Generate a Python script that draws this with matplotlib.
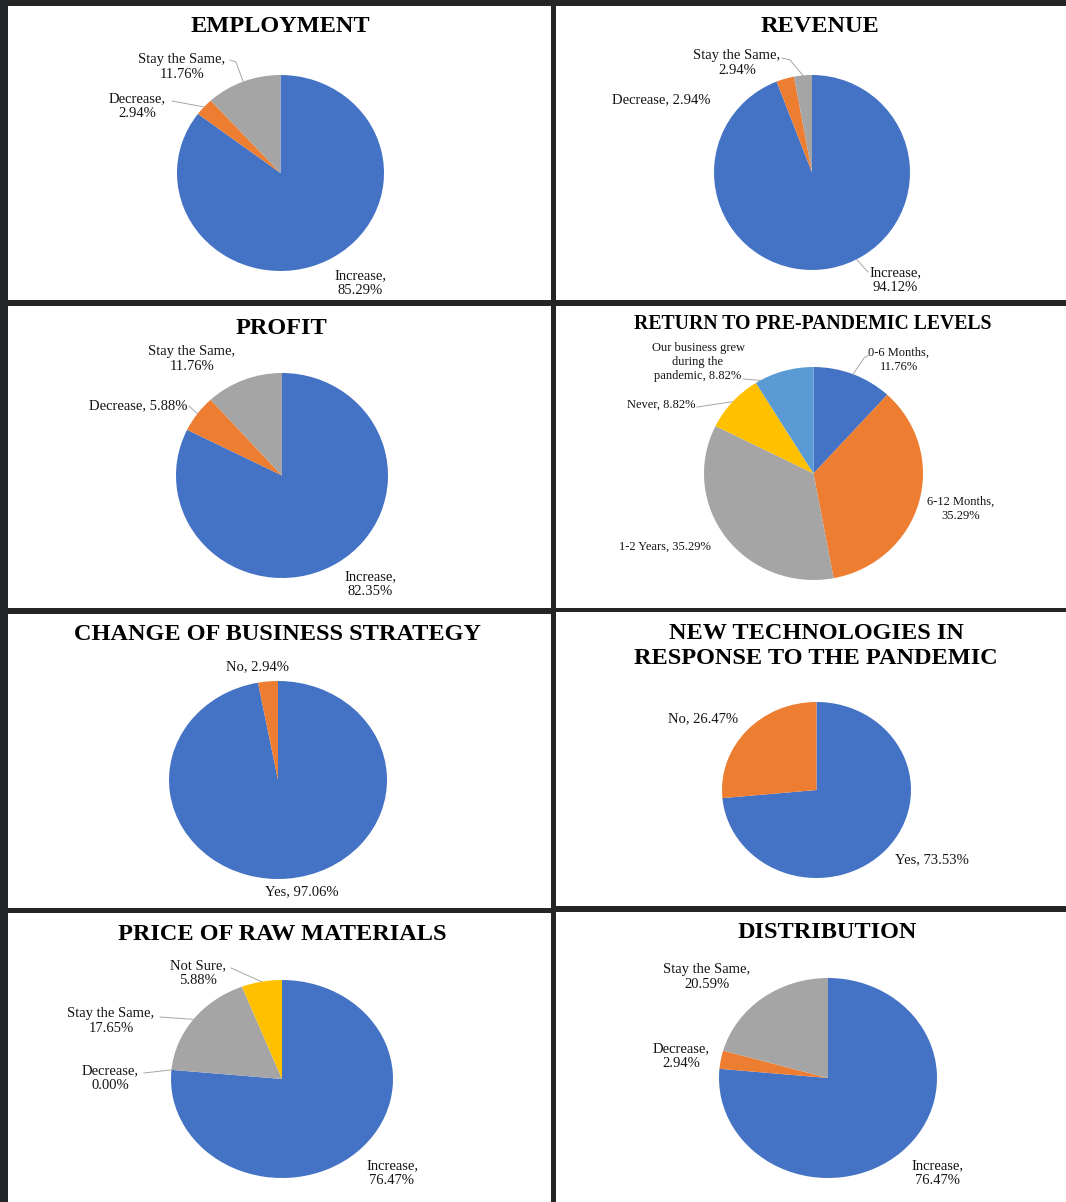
import matplotlib
matplotlib.use("Agg")
import matplotlib.pyplot as plt
from matplotlib.patches import Rectangle
import numpy as np

W, H = 1066, 1202
DPI = 100

BLUE = "#4472C4"
ORANGE = "#ED7D31"
GRAY = "#A5A5A5"
YELLOW = "#FFC000"
LBLUE = "#5B9BD5"

# ---------------- data ----------------
employment_labels = ["Increase", "Decrease", "Stay the Same"]
employment_values = [85.29, 2.94, 11.76]

revenue_labels = ["Increase", "Decrease", "Stay the Same"]
revenue_values = [94.12, 2.94, 2.94]

profit_labels = ["Increase", "Decrease", "Stay the Same"]
profit_values = [82.35, 5.88, 11.76]

return_labels = ["0-6 Months", "6-12 Months", "1-2 Years", "Never",
                 "Our business grew\nduring the\npandemic"]
return_values = [11.76, 35.29, 35.29, 8.82, 8.82]

strategy_labels = ["Yes", "No"]
strategy_values = [97.06, 2.94]

tech_labels = ["Yes", "No"]
tech_values = [73.53, 26.47]

raw_labels = ["Increase", "Decrease", "Stay the Same", "Not Sure"]
raw_values = [76.47, 0.00, 17.65, 5.88]

dist_labels = ["Increase", "Decrease", "Stay the Same"]
dist_values = [76.47, 2.94, 20.59]

# ---------------- layout ----------------
fig = plt.figure(figsize=(W / DPI, H / DPI), dpi=DPI)
fig.patch.set_facecolor("#232527")

panels = [(8, 6, 551, 300), (556, 6, 1066, 300),
          (8, 306, 551, 608), (556, 306, 1066, 608),
          (8, 614, 551, 908), (556, 612, 1066, 906),
          (8, 913, 551, 1202), (556, 912, 1066, 1202)]
for (x0, y0, x1, y1) in panels:
    fig.patches.append(Rectangle((x0 / W, 1 - y1 / H), (x1 - x0) / W, (y1 - y0) / H,
                                 transform=fig.transFigure, facecolor="white",
                                 edgecolor="none", zorder=-5))

SERIF = ["Liberation Serif", "DejaVu Serif"]


def title(text, x, y, size=17.5):
    fig.text(x / W, 1 - y / H, text, ha="center", va="center", fontsize=size,
             fontweight="bold", family=SERIF, color="black", linespacing=1.22)


def make_pie(cx, cy, rx, ry, values, colors, labels, lsize=10.5, lspace=1.25):
    ax = fig.add_axes([(cx - rx) / W, 1 - (cy + ry) / H, 2 * rx / W, 2 * ry / H])
    ax.set_zorder(2)
    wedges, _ = ax.pie(values, colors=colors, startangle=90, counterclock=False,
                       radius=1.0, wedgeprops=dict(linewidth=0))
    ax.set_aspect("auto")
    ax.set_xlim(-1, 1)
    ax.set_ylim(-1, 1)
    ax.axis("off")

    def to_data(px, py):
        return (px - cx) / rx, -(py - cy) / ry

    for i, spec in enumerate(labels):
        if spec is None:
            continue
        text, lx, ly, leader = spec[:4]
        end_ang = spec[4] if len(spec) > 4 else None
        tx, ty = to_data(lx, ly)
        ax.text(tx, ty, text, ha="center", va="center", fontsize=lsize,
                family=SERIF, color="#141414", clip_on=False, linespacing=lspace)
        if leader is not None:
            w = wedges[i]
            ang = (w.theta1 + w.theta2) / 2 if end_ang is None else end_ang
            a = np.deg2rad(ang)
            ex, ey = np.cos(a), np.sin(a)
            pts = [to_data(px, py) for (px, py) in leader] + [(ex, ey)]
            xs, ys = zip(*pts)
            ax.plot(xs, ys, color="#A6A6A6", lw=0.7, clip_on=False, zorder=5)
    return ax


def lab(name, v, sep=",\n"):
    return f"{name}{sep}{v:.2f}%"


# EMPLOYMENT
title("EMPLOYMENT", 280, 27)
make_pie(280.5, 173, 103.5, 98, employment_values, [BLUE, ORANGE, GRAY], [
    (lab(employment_labels[0], employment_values[0]), 360, 283, None),
    (lab(employment_labels[1], employment_values[1]), 137, 106, [(172, 101)]),
    (lab(employment_labels[2], employment_values[2]), 182, 67, [(230, 60), (236, 62)]),
])

# REVENUE
title("REVENUE", 820, 27)
make_pie(812, 172.5, 98, 97.5, revenue_values, [BLUE, ORANGE, GRAY], [
    (lab(revenue_labels[0], revenue_values[0]), 895, 280, [(868, 272)], -63),
    (lab(revenue_labels[1], revenue_values[1], ", "), 661, 100, None),
    (lab(revenue_labels[2], revenue_values[2]), 737, 63, [(782, 58), (790, 60)]),
])

# PROFIT
title("PROFIT", 281, 328)
make_pie(282, 475.5, 106, 102.5, profit_values, [BLUE, ORANGE, GRAY], [
    (lab(profit_labels[0], profit_values[0]), 370, 584, None),
    (lab(profit_labels[1], profit_values[1], ", "), 138, 406, [(189, 406)]),
    (lab(profit_labels[2], profit_values[2]), 192, 359, None),
])

# RETURN TO PRE-PANDEMIC LEVELS
title("RETURN TO PRE-PANDEMIC LEVELS", 813, 324, size=14.2)
make_pie(813.5, 473.5, 109.5, 106.5, return_values, [BLUE, ORANGE, GRAY, YELLOW, LBLUE], [
    (lab(return_labels[0], return_values[0]), 899, 360, [(869, 355), (864, 358)]),
    (lab(return_labels[1], return_values[1]), 961, 509, None),
    (lab(return_labels[2], return_values[2], ", "), 665, 547, None),
    (lab(return_labels[3], return_values[3], ", "), 661, 405, [(697, 407)]),
    (lab(return_labels[4], return_values[4], ", "), 698, 362, [(743, 379)], 119),
], lsize=9, lspace=1.2)

# CHANGE OF BUSINESS STRATEGY
title("CHANGE OF BUSINESS STRATEGY", 278, 635)
make_pie(278, 780, 109, 99, strategy_values, [BLUE, ORANGE], [
    (lab(strategy_labels[0], strategy_values[0], ", "), 302, 892, None),
    (lab(strategy_labels[1], strategy_values[1], ", "), 257, 667, None),
])

# NEW TECHNOLOGIES
title("NEW TECHNOLOGIES IN\nRESPONSE TO THE PANDEMIC", 816, 646)
make_pie(816.5, 790, 94.5, 88, tech_values, [BLUE, ORANGE], [
    (lab(tech_labels[0], tech_values[0], ", "), 932, 860, None),
    (lab(tech_labels[1], tech_values[1], ", "), 703, 719, None),
])

# PRICE OF RAW MATERIALS
title("PRICE OF RAW MATERIALS", 282, 935)
make_pie(282, 1079, 111, 99, raw_values, [BLUE, ORANGE, GRAY, YELLOW], [
    (lab(raw_labels[0], raw_values[0]), 392, 1173, None),
    (lab(raw_labels[1], raw_values[1]), 110, 1078, [(144, 1073)]),
    (lab(raw_labels[2], raw_values[2]), 111, 1021, [(160, 1017)]),
    (lab(raw_labels[3], raw_values[3]), 198, 973, [(231, 968)]),
])

# DISTRIBUTION
title("DISTRIBUTION", 827, 932)
make_pie(828, 1078, 109, 100, dist_values, [BLUE, ORANGE, GRAY], [
    (lab(dist_labels[0], dist_values[0]), 937, 1173, None),
    (lab(dist_labels[1], dist_values[1]), 681, 1056, None),
    (lab(dist_labels[2], dist_values[2]), 707, 977, None),
])

fig.savefig("out.png", dpi=DPI, facecolor=fig.get_facecolor())
